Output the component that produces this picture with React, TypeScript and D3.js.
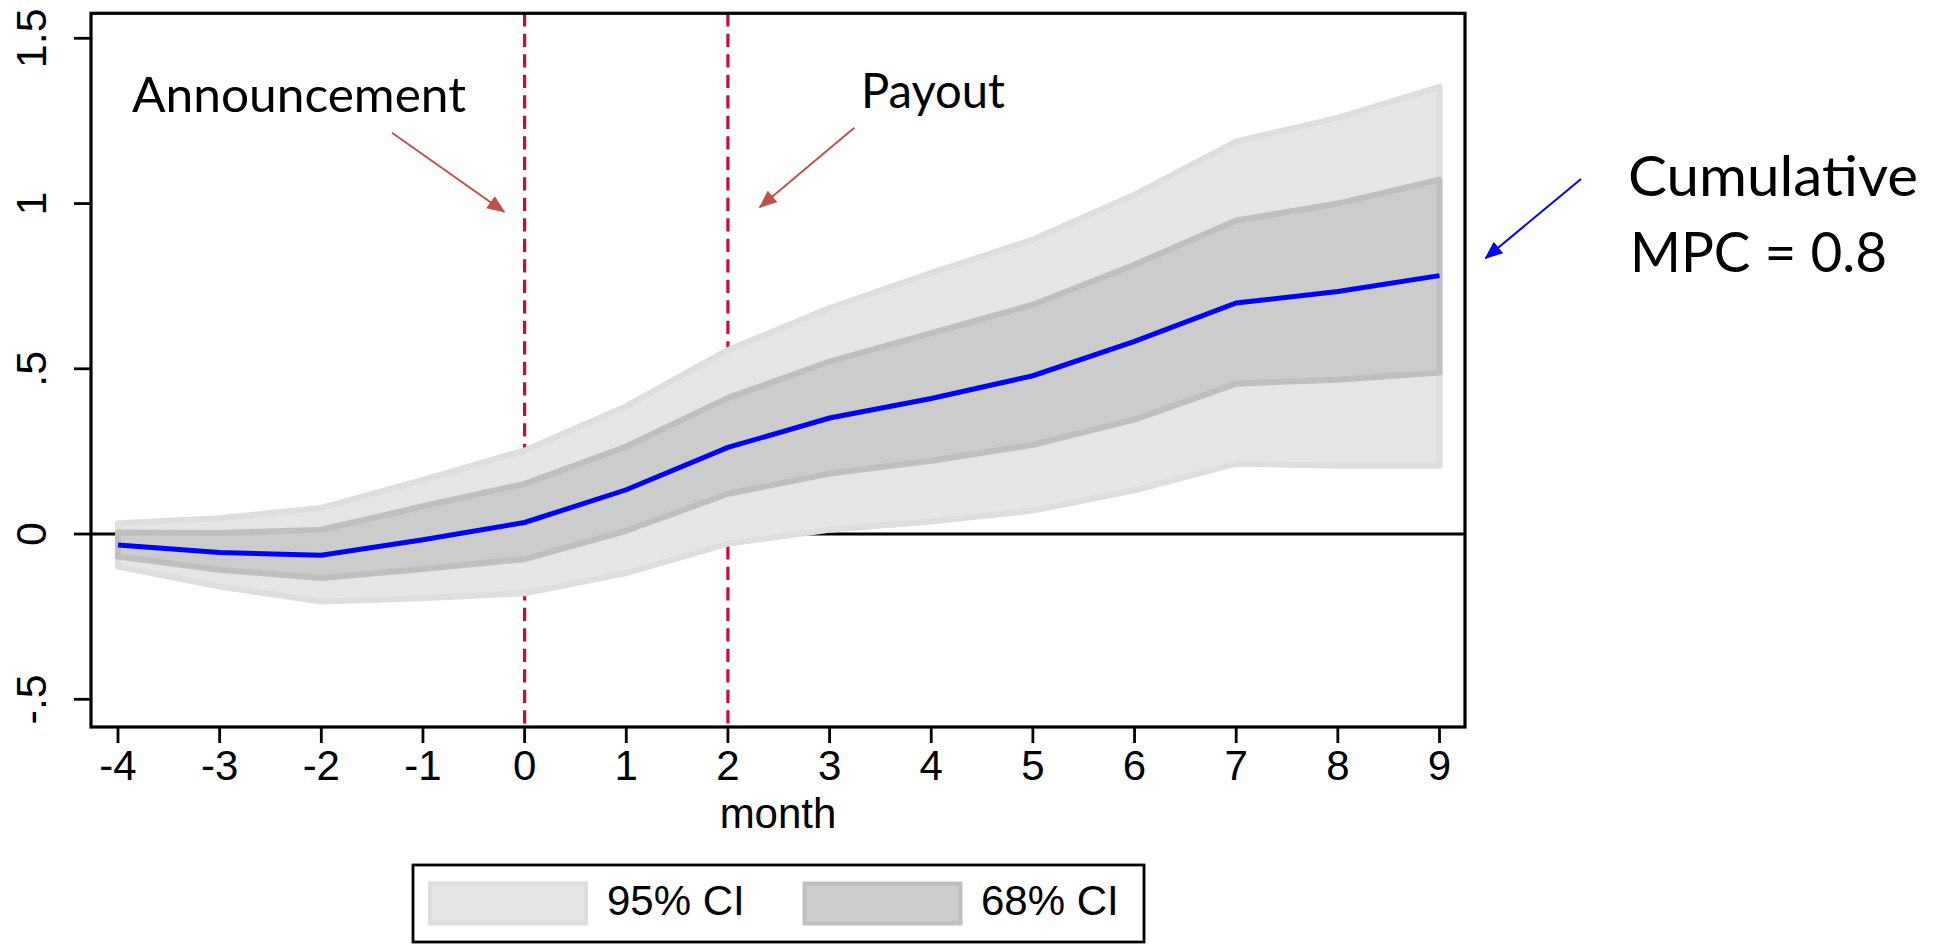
import React from "react";
import * as d3 from "d3";

const months = [-4, -3, -2, -1, 0, 1, 2, 3, 4, 5, 6, 7, 8, 9];
const coef = [-0.033, -0.056, -0.064, -0.017, 0.035, 0.134, 0.262, 0.351, 0.41, 0.479, 0.583, 0.699, 0.734, 0.782];
const ci95Hi = [0.033, 0.048, 0.079, 0.164, 0.253, 0.387, 0.557, 0.684, 0.79, 0.891, 1.027, 1.188, 1.259, 1.353];
const ci95Lo = [-0.098, -0.159, -0.204, -0.194, -0.179, -0.118, -0.029, 0.013, 0.038, 0.071, 0.132, 0.213, 0.207, 0.207];
const ci68Hi = [0.005, 0.003, 0.013, 0.084, 0.152, 0.265, 0.412, 0.522, 0.608, 0.694, 0.815, 0.949, 1.0, 1.072];
const ci68Lo = [-0.068, -0.108, -0.133, -0.106, -0.076, 0.01, 0.122, 0.183, 0.222, 0.27, 0.346, 0.455, 0.467, 0.489];
const yTicks = [-0.5, 0, 0.5, 1, 1.5];
const yTickLabels = ["-.5", "0", ".5", "1", "1.5"];
const eventMonths = [0, 2];
const legendLabels = ["95% CI", "68% CI"];

const W = 1946;
const H = 944;
const frame = { left: 91, right: 1465, top: 13.3, bottom: 727 };

export default function App() {
  const x = d3.scaleLinear().domain([-4, 9]).range([118, 1439.5]);
  const y = d3.scaleLinear().domain([-0.5, 1.5]).range([699.3, 38.3]);

  const rows = months.map((m, i) => ({
    m,
    c: coef[i],
    h95: ci95Hi[i],
    l95: ci95Lo[i],
    h68: ci68Hi[i],
    l68: ci68Lo[i],
  }));

  const area95 = d3
    .area<any>()
    .x((d) => x(d.m))
    .y0((d) => y(d.l95))
    .y1((d) => y(d.h95));
  const area68 = d3
    .area<any>()
    .x((d) => x(d.m))
    .y0((d) => y(d.l68))
    .y1((d) => y(d.h68));
  const line = d3
    .line<any>()
    .x((d) => x(d.m))
    .y((d) => y(d.c));

  const axisFont = "'Liberation Sans', Arial, Helvetica, sans-serif";
  const annFont = "Lato, 'Open Sans', 'Noto Sans', sans-serif";
  const red = "#c0504d";

  return (
    <svg
      width={W}
      height={H}
      viewBox={`0 0 ${W} ${H}`}
      style={{ position: "absolute", left: 0, top: 0, background: "#fff" }}
    >
      <defs>
        <marker id="redHead" viewBox="0 0 18 15" refX="17" refY="7.5" markerWidth="18" markerHeight="15" markerUnits="userSpaceOnUse" orient="auto">
          <path d="M0,0 L18,7.5 L0,15 z" fill={red} />
        </marker>
        <marker id="blueHead" viewBox="0 0 18 15" refX="17" refY="7.5" markerWidth="18" markerHeight="15" markerUnits="userSpaceOnUse" orient="auto">
          <path d="M0,0 L18,7.5 L0,15 z" fill="#0000ff" />
        </marker>
      </defs>
      <rect x={0} y={0} width={W} height={H} fill="#fff" />

      {/* event dashed lines */}
      {eventMonths.map((m) => (
        <line
          key={m}
          x1={x(m)}
          x2={x(m)}
          y1={frame.top}
          y2={frame.bottom}
          stroke="#c80a3c"
          strokeWidth={3.2}
          strokeDasharray="13.3 7.2"
        />
      ))}

      {/* zero line */}
      <line x1={frame.left} x2={frame.right} y1={y(0)} y2={y(0)} stroke="#000" strokeWidth={3} />

      {/* bands */}
      <path d={area95(rows) || ""} fill="#e5e5e5" stroke="#dedede" strokeWidth={6} strokeLinejoin="round" />
      <path d={area68(rows) || ""} fill="#cccccc" stroke="#bfbfbf" strokeWidth={6} strokeLinejoin="round" />

      {/* estimate line */}
      <path d={line(rows) || ""} fill="none" stroke="#0000ff" strokeWidth={5} />

      {/* frame */}
      <rect
        x={frame.left}
        y={frame.top}
        width={frame.right - frame.left}
        height={frame.bottom - frame.top}
        fill="none"
        stroke="#000"
        strokeWidth={3.2}
      />

      {/* y ticks */}
      {yTicks.map((t, i) => (
        <g key={t}>
          <line x1={frame.left - 17} x2={frame.left} y1={y(t)} y2={y(t)} stroke="#000" strokeWidth={2.8} />
          <text
            transform={`translate(46,${y(t)}) rotate(-90)`}
            textAnchor="middle"
            fontFamily={axisFont}
            fontSize={43}
            fill="#000"
          >
            {yTickLabels[i]}
          </text>
        </g>
      ))}

      {/* x ticks */}
      {months.map((m) => (
        <g key={m}>
          <line x1={x(m)} x2={x(m)} y1={frame.bottom} y2={frame.bottom + 16} stroke="#000" strokeWidth={2.8} />
          <text x={x(m)} y={780} textAnchor="middle" fontFamily={axisFont} fontSize={42} fill="#000">
            {m}
          </text>
        </g>
      ))}
      <text x={(frame.left + frame.right) / 2} y={828} textAnchor="middle" fontFamily={axisFont} fontSize={42} fill="#000">
        month
      </text>

      {/* annotations */}
      <text x={132} y={112} fontFamily={annFont} fontSize={48} textLength={334} lengthAdjust="spacingAndGlyphs" fill="#000">
        Announcement
      </text>
      <line x1={392} y1={132.7} x2={504.4} y2={212} stroke={red} strokeWidth={2} markerEnd="url(#redHead)" />
      <text x={861} y={108} fontFamily={annFont} fontSize={48} textLength={144} lengthAdjust="spacingAndGlyphs" fill="#000">
        Payout
      </text>
      <line x1={854.3} y1={127.7} x2={759.6} y2={207.3} stroke={red} strokeWidth={2} markerEnd="url(#redHead)" />

      <line x1={1581} y1={179} x2={1485.4} y2={258.3} stroke="#0000ff" strokeWidth={2} markerEnd="url(#blueHead)" />
      <text x={1628} y={196} fontFamily={annFont} fontSize={56} textLength={290} lengthAdjust="spacingAndGlyphs" fill="#000">
        Cumulative
      </text>
      <text x={1630} y={272} fontFamily={annFont} fontSize={56} textLength={257} lengthAdjust="spacingAndGlyphs" fill="#000">
        MPC = 0.8
      </text>

      {/* legend */}
      <rect x={413} y={865} width={731} height={77} fill="#fff" stroke="#000" strokeWidth={2.8} />
      <rect x={430} y={883.5} width={156} height={40} fill="#e5e5e5" stroke="#dedede" strokeWidth={4} />
      <text x={607} y={915} fontFamily={axisFont} fontSize={42} fill="#000">
        {legendLabels[0]}
      </text>
      <rect x={804.5} y={883.5} width={156} height={40} fill="#cccccc" stroke="#bfbfbf" strokeWidth={4} />
      <text x={981} y={915} fontFamily={axisFont} fontSize={42} fill="#000">
        {legendLabels[1]}
      </text>
    </svg>
  );
}
